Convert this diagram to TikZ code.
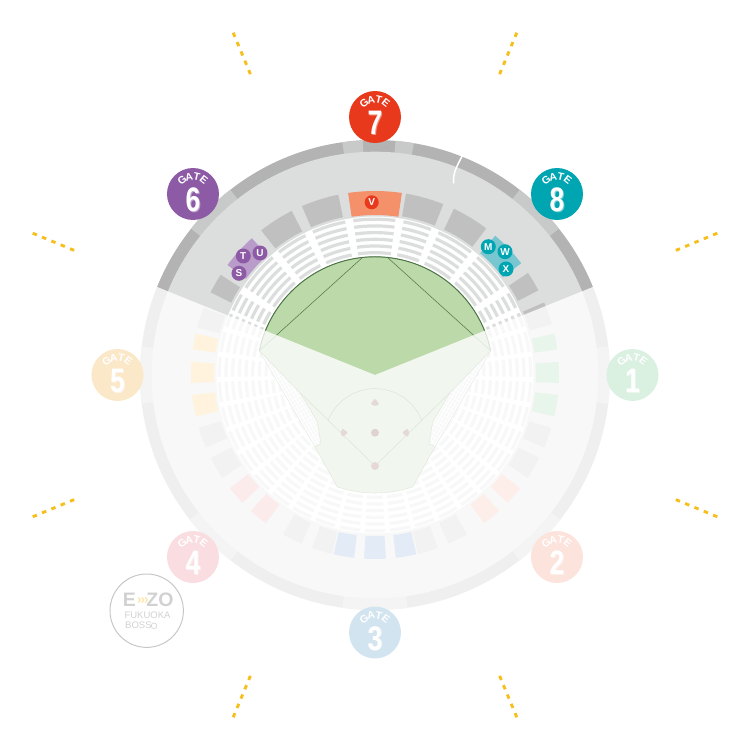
\documentclass[tikz,border=0pt]{standalone}
\usepackage{fontspec}
\setmainfont{Liberation Sans}
\usetikzlibrary{calc}
\definecolor{ringdark}{HTML}{B3B3B3}
\definecolor{ringlight}{HTML}{C8CACA}
\definecolor{concourse}{HTML}{DCDDDD}
\definecolor{blockgrey}{HTML}{BFC0BF}
\definecolor{seatgrey}{HTML}{DCDDDD}
\definecolor{fieldgreen}{HTML}{BCD9AA}
\definecolor{fieldline}{HTML}{4C7544}
\definecolor{gatered}{HTML}{E8391C}
\definecolor{gatepurple}{HTML}{8D5BA6}
\definecolor{gateteal}{HTML}{00A5B2}
\definecolor{tickyellow}{HTML}{F6BF1C}
\definecolor{blockred}{HTML}{F4906A}
\definecolor{blockpurple}{HTML}{B99CC9}
\definecolor{blockteal}{HTML}{78C6CF}
\definecolor{basemark}{HTML}{E6D9D5}
\definecolor{pitchmark}{HTML}{DFD3CF}
\newcommand\ringsec[5]{\fill[#1] (#2:#5pt) arc[start angle=#2,end angle=#3,radius=#5pt] -- (#3:#4pt) arc[start angle=#3,end angle=#2,radius=#4pt] -- cycle;}
\newcommand\seatarcs[2]{\foreach \rr in {88.8,95.5,102.2,108.9,115.6,122.3,129,135.7,142.4,149.1,155.8}{\draw[seatrow] (#1:\rr pt) arc[start angle=#1,end angle=#2,radius=\rr pt];}}
\newcommand\gatemark[5]{%
  \node[gatecircle,fill=#4] (gate#1) at (#2,#3) {};
  \foreach \lett/\ang in {G/128,A/103,T/77,E/52}{\node[gatelet,rotate=\ang-90] (gate#1\lett) at ($(gate#1)+(\ang:17.5pt)$) {\lett};}
  \node[gatenum,text=white!45!#4] (gate#1sh) at ($(gate#1)+(1,-6.8)$) {\scalebox{.78}[1]{#5}};
  \node[gatenum] (gate#1num) at ($(gate#1)+(0,-6)$) {\scalebox{.78}[1]{#5}};
}
\tikzset{
  seatrow/.style={draw=seatgrey,line width=3.2pt},
  wedgeseat/.style={draw=seatgrey,line width=2pt,dash pattern=on 3pt off 1pt},
  gatecircle/.style={circle,minimum size=52pt,inner sep=0pt,draw=none},
  gatelet/.style={inner sep=0pt,text=white,font=\fontsize{10.5}{10.5}\selectfont\bfseries},
  gatenum/.style={inner sep=0pt,text=white,font=\fontsize{34}{34}\selectfont\bfseries},
  seatbadge/.style={circle,minimum size=15pt,inner sep=0pt,text=white,font=\fontsize{10}{10}\selectfont\bfseries},
  ticks/.style={draw=tickyellow,line width=2.9pt,dash pattern=on 4.5pt off 5.6pt},
  ezotext/.style={inner sep=0pt,text=black!18},
}
\begin{document}
\begin{tikzpicture}[x=1pt,y=1pt]
\useasboundingbox (-375,-375) rectangle (375,375);
% outer ring
\fill[ringdark] (0,0) circle (235pt);
\foreach \aa/\bb in {-7/7,38.5/52,80.5/85,93/98,128/141.5,173/187,-52/-38,-98/-82,-142/-128}{\ringsec{ringlight}{\aa}{\bb}{223}{235}}
\fill[concourse] (0,0) circle (223.3pt);
\draw[white,line width=1.5pt,line cap=round] (88,221) .. controls (83,210) and (78,204) .. (78.5,192);
% concourse blocks
\foreach \aa/\bb in {16/23.2,27.4/33.7,52.8/64.6,68.2/80.3,101.5/113.4,116.9/128.2,147/153.3,158.5/165,-23.2/-16.7,-34/-26.8,-66.5/-60,-76.5/-70,-103.5/-110,-113.5/-120,-153.2/-146,-163.3/-156.8}{\ringsec{blockgrey}{\aa}{\bb}{161}{184}}
\ringsec{blockred}{81.6}{98.4}{160}{184}
\ringsec{blockpurple}{132}{143.3}{161}{184}
\ringsec{blockteal}{37.4}{49.2}{161}{184}
% seating
\fill[white] (0,0) circle (158.5pt);
\foreach \aa/\bb in {18/23.3,25.5/31.5,34.5/49,52/66,69/79.5,82.5/98,101/113.5,116.5/128,131/146,149/155.5,157/162}{\seatarcs{\aa}{\bb}}
\foreach \k [evaluate=\k as \lo using -90+9.3*\k-3.7,evaluate=\k as \hi using -90+9.3*\k+3.7] in {-11,...,11}{\seatarcs{\lo}{\hi}}
% field
\foreach \sx in {1,-1}{
  \begin{scope}[xscale=\sx]
    \fill[white] (115.7,24.3) -- (75,-17.7) -- (57.7,-46.7) -- (54,-69) -- (60,-71.7) -- cycle;
    \begin{scope}
      \clip (115.7,24.3) -- (75,-17.7) -- (57.7,-46.7) -- (54,-69) -- (60,-71.7) -- cycle;
      \foreach \off in {2.6,5.8,9,12.2,15.4,18.6,21.8}{\draw[wedgeseat] ($(115.7,24.3)+\off*(-.865,.502)$) -- ($(60,-71.7)+\off*(-.865,.502)$);}
    \end{scope}
    \draw[fieldline!70,line width=.5pt] (115.7,24.3) -- (60,-71.7);
  \end{scope}
}
\filldraw[fill=fieldgreen,draw=fieldline!75,line width=.6pt] (11.9:118.2pt) arc[start angle=11.9,end angle=168.1,radius=118.2pt] -- (-115.7,24.3) -- (-75,-17.7) -- (-57.7,-46.7) -- (-54,-69) -- (-60,-71.7) -- (-108.6:118pt) arc[start angle=-108.6,end angle=-71.4,radius=118pt] -- (60,-71.7) -- (54,-69) -- (57.7,-46.7) -- (75,-17.7) -- (115.7,24.3) -- cycle;
\draw[fieldline,line width=.9pt] (11.9:118.2pt) arc[start angle=11.9,end angle=168.1,radius=118.2pt];
\draw[fieldline,line width=.5pt] (115.7,24.3) -- (12,118);
\draw[fieldline,line width=.5pt] (-115.7,24.3) -- (-12,118);
\draw[fieldline,line width=.5pt] (75,-17.7) -- (0,-91) -- (-75,-17.7);
\draw[fieldline,line width=.5pt] ($(0,-64)+(22:50.4pt)$) arc[start angle=22,end angle=158,radius=50.4pt];
% fade over the lower part
\fill[white,opacity=.8] (0,0) -- (22:237pt) arc[start angle=22,end angle=-202,radius=237pt] -- cycle;
% coloured lower blocks
\definecolor{lowgreen}{HTML}{E8F5EA}\definecolor{lowsalmon}{HTML}{FDEEE9}\definecolor{lowblue}{HTML}{E3ECF6}\definecolor{loworange}{HTML}{FFF3DD}\definecolor{lowpink}{HTML}{FBEBEA}
\foreach \aa/\bb in {8/13,-2.5/4.1,-13/-6.2}{\ringsec{lowgreen}{\aa}{\bb}{161}{184}}
\foreach \aa/\bb in {-44/-38,-53.6/-47.6}{\ringsec{lowsalmon}{\aa}{\bb}{161}{184}}
\foreach \aa/\bb in {-93.4/-86.6,-83.5/-77,-103/-96.5}{\ringsec{lowblue}{\aa}{\bb}{161}{184}}
\foreach \aa/\bb in {167/172,175.9/182.5,186.2/193}{\ringsec{loworange}{\aa}{\bb}{161}{184}}
\foreach \aa/\bb in {-142/-136,-132.4/-126.4}{\ringsec{lowpink}{\aa}{\bb}{161}{184}}
% bases
\fill[pitchmark] (0,-57.7) circle (4pt);
\fill[basemark] (0,-91) circle (4pt);
\fill[basemark] (-4,-29) -- (-1,-24.5) -- (0,-24.2) -- (1,-24.5) -- (4,-29) arc[start angle=-40,end angle=-140,radius=5.2pt] -- cycle;
\fill[basemark] (32.3,-53.7) -- (28,-56.7) -- (27.7,-57.7) -- (28,-58.7) -- (32.3,-61.7) arc[start angle=-50,end angle=50,radius=5.2pt] -- cycle;
\fill[basemark] (-32.3,-53.7) -- (-28,-56.7) -- (-27.7,-57.7) -- (-28,-58.7) -- (-32.3,-61.7) arc[start angle=230,end angle=130,radius=5.2pt] -- cycle;
% seat badges
\node[seatbadge,fill=gatered,minimum size=14pt] (sV) at (-3.3,172.7) {V};
\node[seatbadge,fill=gatepurple] (sT) at (-131.7,119) {T};
\node[seatbadge,fill=gatepurple] (sU) at (-115,122) {U};
\node[seatbadge,fill=gatepurple] (sS) at (-136,101.7) {S};
\node[seatbadge,fill=gateteal] (sM) at (113.3,128.3) {M};
\node[seatbadge,fill=gateteal] (sW) at (130,123.3) {W};
\node[seatbadge,fill=gateteal] (sX) at (131,106) {X};
% gates
\gatemark{7}{0}{258}{gatered}{7}
\gatemark{6}{-182}{181}{gatepurple}{6}
\gatemark{8}{182}{181}{gateteal}{8}
\definecolor{gfive}{HTML}{FBE8C8}\definecolor{gone}{HTML}{DAF0E1}\definecolor{gtwo}{HTML}{FCE3DC}\definecolor{gthree}{HTML}{D3E4F1}\definecolor{gfour}{HTML}{F9DDE1}
\gatemark{5}{-257.5}{0}{gfive}{5}
\gatemark{1}{257.5}{0}{gone}{1}
\gatemark{2}{182}{-182}{gtwo}{2}
\gatemark{3}{0}{-257.5}{gthree}{3}
\gatemark{4}{-182}{-182}{gfour}{4}
% ticks
\foreach \ang in {22.5,67.5,112.5,157.5,202.5,247.5,292.5,337.5}{\draw[ticks] (\ang:325.6pt) -- (\ang:370.5pt);}
% badge
\node[circle,minimum size=73.4pt,inner sep=0pt,draw=black!22,line width=1pt] (ezo) at (-228.3,-235.7) {};
\node[ezotext,font=\fontsize{19.5}{19.5}\selectfont\bfseries] (ezoE) at (-245.5,-225) {E};
\node[ezotext,font=\fontsize{19.5}{19.5}\selectfont\bfseries] (ezoZO) at (-215,-225) {ZO};
\node[ezotext,font=\fontsize{9.5}{9.5}\selectfont] (ezoF) at (-227.5,-240) {FUKUOKA};
\node[ezotext,font=\fontsize{9.5}{9.5}\selectfont,anchor=west] (ezoB) at (-250,-250.5) {BOSS};
\foreach \cx in {-236.7,-233.2,-229.7}{\draw[draw=tickyellow!45,line width=1pt] (\cx,-222.3) -- (\cx+2,-225) -- (\cx,-227.7);}
\draw[black!15,line width=.8pt] (-221,-250.8) circle (2.8pt);
\end{tikzpicture}
\end{document}
